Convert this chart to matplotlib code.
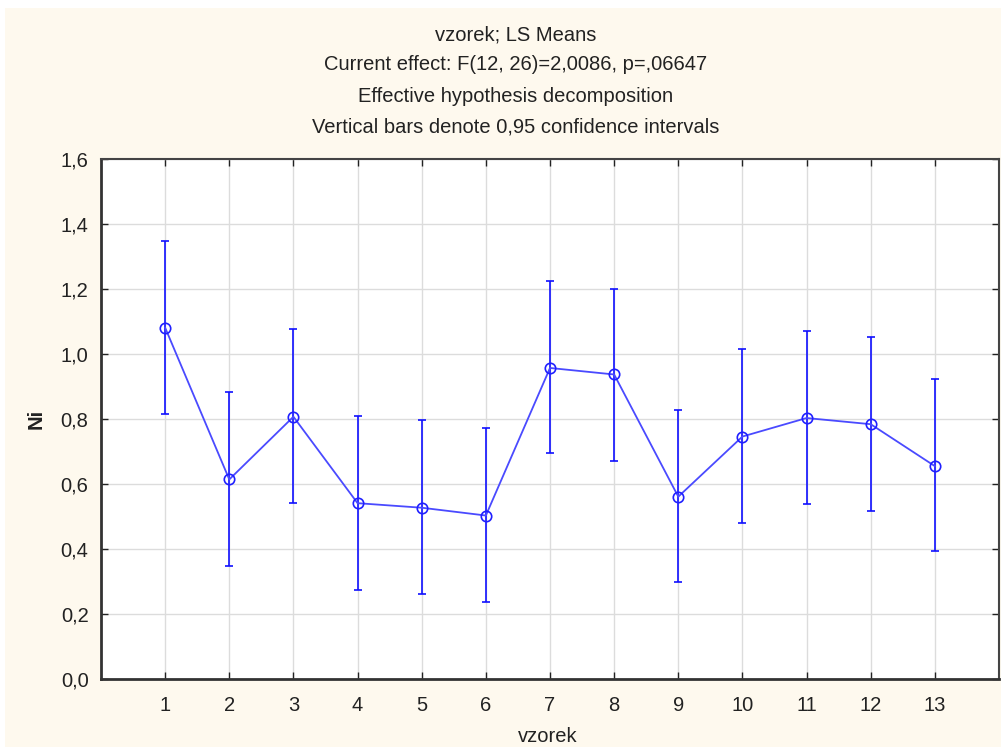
import matplotlib
matplotlib.use("Agg")
import matplotlib.pyplot as plt
from matplotlib.patches import Rectangle
from matplotlib.ticker import FuncFormatter

samples = [1, 2, 3, 4, 5, 6, 7, 8, 9, 10, 11, 12, 13]
means = [1.081, 0.614, 0.807, 0.541, 0.527, 0.503, 0.957, 0.937, 0.561, 0.746, 0.803, 0.784, 0.655]
upper = [1.347, 0.883, 1.077, 0.809, 0.797, 0.771, 1.225, 1.201, 0.829, 1.014, 1.072, 1.053, 0.924]
lower = [0.815, 0.349, 0.543, 0.274, 0.262, 0.238, 0.695, 0.672, 0.299, 0.481, 0.537, 0.518, 0.394]
title_lines = ["vzorek; LS Means",
               "Current effect: F(12, 26)=2,0086, p=,06647",
               "Effective hypothesis decomposition",
               "Vertical bars denote 0,95 confidence intervals"]
yticks = [0.0, 0.2, 0.4, 0.6, 0.8, 1.0, 1.2, 1.4, 1.6]

plt.rcParams['font.family'] = ['Liberation Sans', 'DejaVu Sans']

W, H = 1001, 747
fig = plt.figure(figsize=(W / 100, H / 100), dpi=100, facecolor='white')
fig.patches.append(Rectangle((5 / W, 0), 1, (H - 8) / H, transform=fig.transFigure,
                             facecolor='#FEF9EE', edgecolor='none', zorder=-10))

ax = fig.add_axes([101 / W, (H - 679) / H, (999 - 101) / W, (679 - 159) / H])
ax.set_facecolor('white')

err_lo = [m - l for m, l in zip(means, lower)]
err_hi = [u - m for m, u in zip(means, upper)]
ax.errorbar(samples, means, yerr=[err_lo, err_hi], fmt='none', ecolor='#1010FF',
            elinewidth=1.2, capsize=3, capthick=1.2, zorder=3)
ax.plot(samples, means, color='#4A4AFF', lw=1.3, marker='o', markersize=7.5,
        markerfacecolor='none', markeredgecolor='#2020FF', markeredgewidth=1.2, zorder=4)

ax.set_xlim(0, 14)
ax.set_ylim(0, 1.6)
ax.set_xticks(samples)
ax.set_yticks(yticks)
ax.yaxis.set_major_formatter(FuncFormatter(lambda v, p: f"{v:.1f}".replace('.', ',')))
ax.grid(True, color='#DCDCDC', lw=1)
ax.set_axisbelow(True)
ax.tick_params(direction='in', length=5, width=1, labelsize=14.5, colors='#222222',
               top=True, right=True)
ax.tick_params(axis='x', pad=12)
ax.tick_params(axis='y', pad=9)
for side in ['left', 'bottom']:
    ax.spines[side].set_linewidth(2)
    ax.spines[side].set_color('#333333')
for side in ['top', 'right']:
    ax.spines[side].set_linewidth(1.5)
    ax.spines[side].set_color('#444444')

ax.set_ylabel('Ni', fontsize=14.5, color='#222222', fontweight='bold', labelpad=11)
fig.text(548 / W, 1 - 737 / H, 'vzorek', ha='center', va='center', fontsize=14.5,
         color='#222222')

ys = [35, 65, 96, 127]
for t, y in zip(title_lines, ys):
    fig.text(516 / W, 1 - y / H, t, ha='center', va='center', fontsize=14.5, color='#222222')

fig.savefig('out.png', dpi=100, facecolor=fig.get_facecolor())
